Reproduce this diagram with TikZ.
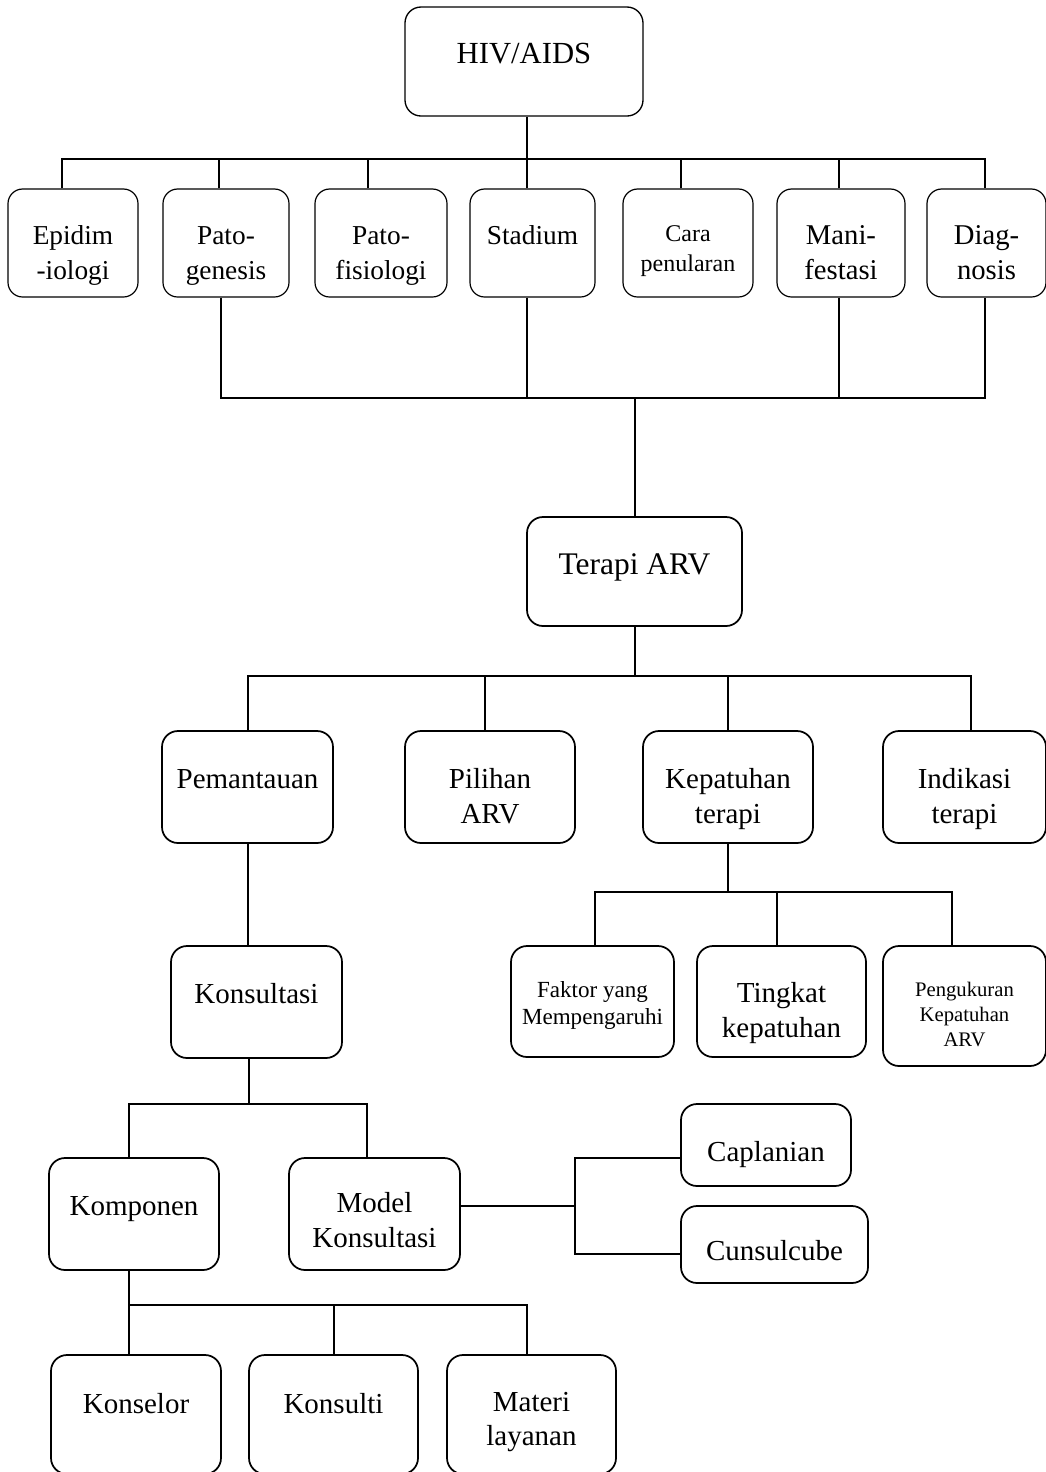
\documentclass[tikz,border=0pt]{standalone}
\usepackage{fontspec}
\setmainfont{Liberation Serif}
\usetikzlibrary{positioning, calc}
\tikzset{
  box/.style  = {rectangle, draw, rounded corners=12pt, line width=1.3pt, align=center,
                 inner sep=2pt, text height=16pt, text depth=14pt,
                 font=\fontsize{21.75}{26}\selectfont},
  boxT/.style = {box, rounded corners=11pt, line width=0.9pt,
                 font=\fontsize{20.5}{26.25}\selectfont},
  two/.style  = {text height=56pt, text depth=2pt},
  sz/.style 2 args = {minimum width=#1*0.75pt, minimum height=#2*0.75pt},
  link/.style = {line width=1.5pt},
}
\begin{document}
\begin{tikzpicture}[x=0.75pt, y=-0.75pt]
    \useasboundingbox (0,0) rectangle (1046,1472);

    % top
    \node[box, sz={238}{109}, line width=1pt, text depth=12.5pt, font=\fontsize{23}{28}\selectfont] (hiv) at (524,61.5) {HIV/AIDS};

    \node[boxT, sz={130}{108}, two] (epid)  at (73,243)    {Epidim\\-iologi};
    \node[boxT, sz={126}{108}, two] (patog) at (226,243)   {Pato-\\genesis};
    \node[boxT, sz={132}{108}, two] (patof) at (381,243)   {Pato-\\fisiologi};
    \node[boxT, sz={125}{108}]      (stad)  at (532.5,243) {Stadium};
    \node[boxT, sz={130}{108}, text height=45pt, text depth=2pt,
          font=\fontsize{18}{22.5}\selectfont] (cara) at (688,243) {Cara\\penularan};
    \node[boxT, sz={128}{108}, two, font=\fontsize{21.5}{26}\selectfont] (mani) at (841,243)   {Mani-\\festasi};
    \node[boxT, sz={119}{108}, two, font=\fontsize{21.5}{26}\selectfont] (diag) at (986.5,243) {Diag-\\nosis};

    % terapi
    \node[box, sz={215}{109}, text depth=11pt, font=\fontsize{23.6}{28}\selectfont] (terapi) at (634.5,571.5) {Terapi ARV};

    \node[box, sz={171}{112}]      (pemant) at (247.5,787) {Pemantauan};
    \node[box, sz={170}{112}, two] (pilih)  at (490,787)   {Pilihan\\ARV};
    \node[box, sz={170}{112}, two] (kepat)  at (728,787)   {Kepatuhan\\terapi};
    \node[box, sz={163}{112}, two] (indik)  at (964.5,787) {Indikasi\\terapi};

    \node[box, sz={163}{111}, text height=37pt, text depth=2pt,
          font=\fontsize{17.3}{20.25}\selectfont] (faktor) at (592.5,1001.5) {Faktor yang\\Mempengaruhi};
    \node[box, sz={169}{111}, two] (tingkat) at (781.5,1001.5) {Tingkat\\kepatuhan};
    \node[box, sz={163}{120}, text height=62pt, text depth=2pt,
          font=\fontsize{15.5}{18.75}\selectfont] (pengukur) at (964.5,1006) {Pengukuran\\Kepatuhan\\ARV};

    % konsultasi
    \node[box, sz={171}{112}] (konsul) at (256.5,1002) {Konsultasi};
    \node[box, sz={170}{112}] (kompon) at (134,1214)   {Komponen};
    \node[box, sz={171}{112}, text height=52pt, text depth=2pt] (model) at (374.5,1214) {Model\\Konsultasi};

    \node[box, sz={170}{82}, text height=26pt, text depth=2pt] (caplan) at (766,1145)    {Caplanian};
    \node[box, sz={187}{77}, text height=26pt, text depth=2pt] (cunsul) at (774.5,1244.5) {Cunsulcube};

    \node[box, sz={170}{119}, text depth=17pt] (konsel)  at (136,1414.5)   {Konselor};
    \node[box, sz={169}{119}, text depth=17pt] (konsult) at (333.5,1414.5) {Konsulti};
    \node[box, sz={169}{119}, text height=49pt, text depth=2pt] (materi) at (531.5,1414.5) {Materi\\layanan};

    % connectors
    \coordinate (r1) at (0,159);
    \draw[link] ([xshift=2pt]hiv.south) -- ([xshift=2pt]hiv.south |- r1);
    \draw[link] ([xshift=-7.9pt]epid.north) |- ([xshift=-1pt]diag.north |- r1) -- ([xshift=-1pt]diag.north);
    \foreach \n/\dx in {patog/-5.2, patof/-10, stad/-4, cara/-5.2, mani/-1.5}
      \draw[link] ([xshift=\dx pt]\n.north) -- ([xshift=\dx pt]\n.north |- r1);

    \coordinate (r2) at (0,398);
    \draw[link] ([xshift=-3.8pt]patog.south) |- ([xshift=-1pt]diag.south |- r2) -- ([xshift=-1pt]diag.south);
    \draw[link] ([xshift=-4pt]stad.south) -- ([xshift=-4pt]stad.south |- r2);
    \draw[link] ([xshift=-1.5pt]mani.south) -- ([xshift=-1.5pt]mani.south |- r2);
    \draw[link] (terapi.north) -- (terapi.north |- r2);

    \coordinate (r3) at (0,676);
    \draw[link] (terapi.south) -- (terapi.south |- r3);
    \draw[link] (pemant.north) |- ([xshift=5pt]indik.north |- r3) -- ([xshift=5pt]indik.north);
    \draw[link] ([xshift=-3.8pt]pilih.north) -- ([xshift=-3.8pt]pilih.north |- r3);
    \draw[link] (kepat.north) -- (kepat.north |- r3);

    \draw[link] (pemant.south) -- (pemant.south |- konsul.north);

    \coordinate (r4) at (0,892);
    \draw[link] (kepat.south) -- (kepat.south |- r4);
    \draw[link] ([xshift=1.9pt]faktor.north) |- ([xshift=-9.4pt]pengukur.north |- r4) -- ([xshift=-9.4pt]pengukur.north);
    \draw[link] ([xshift=-3.4pt]tingkat.north) -- ([xshift=-3.4pt]tingkat.north |- r4);

    \coordinate (r5) at (0,1104);
    \draw[link] ([xshift=-5.6pt]konsul.south) -- ([xshift=-5.6pt]konsul.south |- r5);
    \draw[link] ([xshift=-3.8pt]kompon.north) |- ([xshift=-5.6pt]model.north |- r5) -- ([xshift=-5.6pt]model.north);

    \coordinate (r6) at (575,0);
    \draw[link] ([yshift=6pt]model.east) -- ([yshift=6pt]model.east -| r6);
    \draw[link] ([yshift=-9.75pt]caplan.west) -- ([yshift=-9.75pt]caplan.west -| r6)
                -- ([yshift=-7.1pt]cunsul.west -| r6) -- ([yshift=-7.1pt]cunsul.west);

    \coordinate (r7) at (0,1305);
    \draw[link] ([xshift=-3.8pt]kompon.south) -- ([xshift=-3.8pt]kompon.south |- r7);
    \draw[link] ([xshift=-5.2pt]konsel.north) |- ([xshift=-3.4pt]materi.north |- r7) -- ([xshift=-3.4pt]materi.north);
    \draw[link] (konsult.north) -- (konsult.north |- r7);

  \end{tikzpicture}
\end{document}
